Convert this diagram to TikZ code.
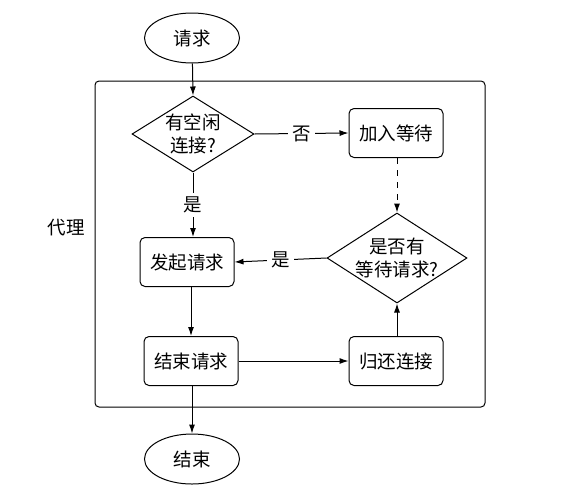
\documentclass[tikz,border=0pt]{standalone}
\usepackage{fontspec}
\setmainfont{Liberation Serif}
\newfontfamily\cjk{Noto Sans CJK SC}
\usetikzlibrary{shapes.geometric,arrows.meta}
\begin{document}
\begin{tikzpicture}[x=1pt,y=-1pt,
  every node/.style={font=\cjk\fontsize{18.5}{23}\selectfont},
  arr/.style={line width=1pt,-{Latex[length=9pt,width=6pt]}},
  term/.style={draw,line width=1pt,ellipse,minimum width=95pt,minimum height=50pt,inner sep=0pt},
  proc/.style={draw,line width=1pt,rounded corners=5pt,minimum width=94pt,minimum height=49pt,inner sep=0pt},
  decide/.style={draw,line width=1pt,diamond,inner sep=-30pt,align=center},
  lbl/.style={fill=white,inner sep=4pt}]
\useasboundingbox (0,0) rectangle (561,491);
\draw[line width=1pt,rounded corners=4pt] (95,81) rectangle (485,407);
\node (proxy) at (66,228) {代理};
\node[term] (req) at (192,38) {请求};
\node[decide,minimum width=122pt,minimum height=76pt] (d1) at (193,134) {有空闲\\连接?};
\node[proc] (wait) at (396,133) {加入等待};
\node[decide,minimum width=140pt,minimum height=90pt] (d2) at (397,258) {是否有\\等待请求?};
\node[proc] (start) at (187,262) {发起请求};
\node[proc] (finish) at (191,361) {结束请求};
\node[proc] (ret) at (396,361) {归还连接};
\node[term] (end) at (192,459) {结束};
\draw[arr] (req) -- (d1.north);
\draw[arr] (d1.east) -- node[lbl] (no) {否} (wait.west);
\draw[arr] (d1.south) -- node[lbl] (yes1) {是} (d1.south |- start.north);
\draw[arr,dash pattern=on 6pt off 6pt] (wait.south -| d2.north) -- (d2.north);
\draw[arr] (d2.west) -- node[lbl] (yes2) {是} (start.east);
\draw[arr] (start.south -| finish.north) -- (finish.north);
\draw[arr] (finish.east) -- (ret.west);
\draw[arr] (ret.north -| d2.south) -- (d2.south);
\draw[arr] (finish.south -| end.north) -- (end.north);
\end{tikzpicture}
\end{document}
